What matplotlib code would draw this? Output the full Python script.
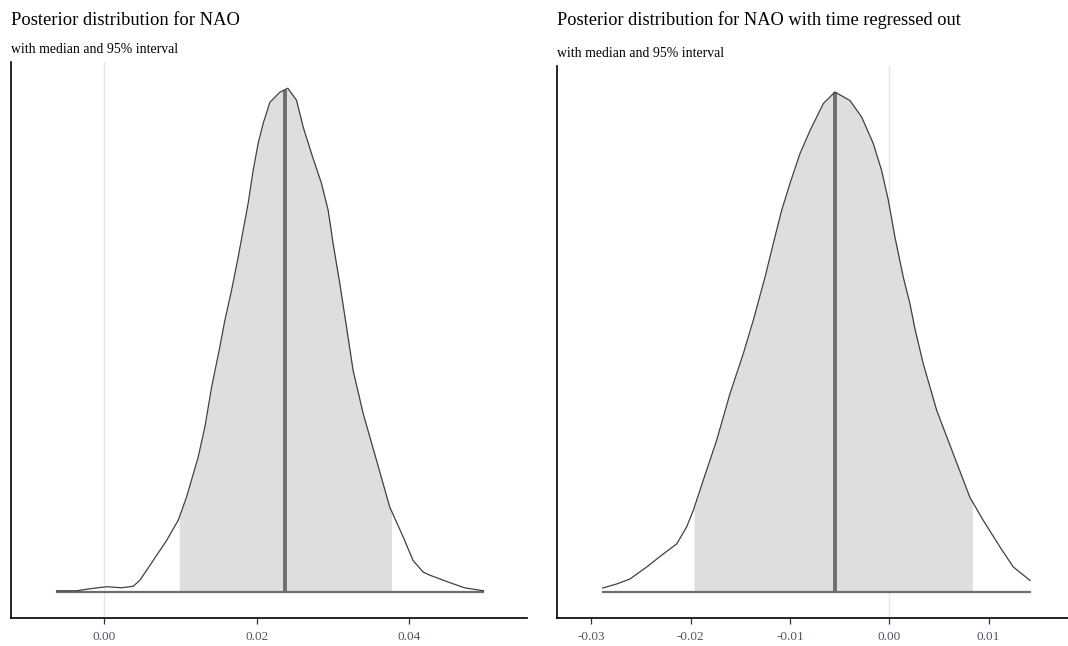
import numpy as np
import matplotlib.pyplot as plt

plt.rcParams['font.family'] = ['Liberation Serif', 'DejaVu Serif']

# posterior density for NAO (height scaled so the peak is 1)
nao_x = [-0.00618, -0.00357, -0.00183, 0.00035, 0.00232, 0.00384, 0.00471, 0.00645,
         0.00821, 0.00973, 0.01082, 0.01234, 0.01322, 0.01410, 0.01518, 0.01584,
         0.01671, 0.01758, 0.01823, 0.01889, 0.01954, 0.02020, 0.02085, 0.02173,
         0.02304, 0.02408, 0.02522, 0.02609, 0.02719, 0.02849, 0.02936, 0.03001,
         0.03089, 0.03177, 0.03263, 0.03394, 0.03569, 0.03743, 0.03918, 0.04048,
         0.04181, 0.04267, 0.04496, 0.04721, 0.04969]
nao_y = [0.003, 0.003, 0.007, 0.011, 0.009, 0.012, 0.024, 0.063,
         0.103, 0.143, 0.189, 0.268, 0.328, 0.407, 0.487, 0.540,
         0.599, 0.665, 0.718, 0.772, 0.837, 0.891, 0.930, 0.972,
         0.992, 1.000, 0.976, 0.923, 0.870, 0.811, 0.758, 0.692,
         0.612, 0.526, 0.440, 0.355, 0.262, 0.169, 0.110, 0.063,
         0.040, 0.034, 0.021, 0.009, 0.003]
nao_median = 0.0237
nao_interval = (0.00986, 0.03766)
nao_ticks = [0.00, 0.02, 0.04]
nao_labels = ['0.00', '0.02', '0.04']

# posterior density for NAO with time regressed out
res_x = [-0.02885, -0.02744, -0.02610, -0.02442, -0.02275, -0.02140, -0.02040, -0.01973,
         -0.01873, -0.01738, -0.01604, -0.01470, -0.01369, -0.01251, -0.01168, -0.01083,
         -0.01000, -0.00899, -0.00798, -0.00664, -0.00547, -0.00396, -0.00278, -0.00161,
         -0.00077, -0.00010, 0.00057, 0.00141, 0.00208, 0.00258, 0.00342, 0.00477,
         0.00644, 0.00812, 0.00946, 0.01114, 0.01248, 0.01417]
res_y = [0.009, 0.017, 0.027, 0.051, 0.077, 0.097, 0.131, 0.164,
         0.224, 0.304, 0.397, 0.477, 0.544, 0.630, 0.697, 0.764,
         0.817, 0.877, 0.923, 0.977, 1.000, 0.983, 0.950, 0.897,
         0.843, 0.784, 0.710, 0.630, 0.577, 0.527, 0.457, 0.364,
         0.277, 0.190, 0.144, 0.091, 0.051, 0.024]
res_median = -0.00547
res_interval = (-0.01966, 0.00836)
res_ticks = [-0.03, -0.02, -0.01, 0.00, 0.01]
res_labels = ['-0.03', '-0.02', '-0.01', '0.00', '0.01']


def draw_panel(ax, x, y, med, interval, ticks, labels, xlim):
    x = np.array(x)
    y = np.array(y)
    lo, hi = interval
    ax.axvline(0, color='#e6e6e6', lw=1.0, zorder=0)
    inside = (x > lo) & (x < hi)
    fx = np.concatenate([[lo], x[inside], [hi]])
    fy = np.concatenate([[np.interp(lo, x, y)], y[inside], [np.interp(hi, x, y)]])
    ax.fill_between(fx, 0, fy, color='#dedede', lw=0, zorder=1)
    ax.plot([med, med], [0, np.interp(med, x, y)], color='#6e6e6e', lw=2.8,
            zorder=2, solid_capstyle='butt')
    ax.plot([x[0], x[-1]], [0, 0], color='#6e6e6e', lw=1.6, zorder=3)
    ax.plot(x, y, color='#404040', lw=0.9, zorder=4)

    ax.set_xlim(*xlim)
    ax.set_ylim(-0.05, 1.052)
    ax.set_xticks(ticks)
    ax.set_xticklabels(labels)
    ax.set_yticks([])
    ax.tick_params(axis='x', length=4, width=0.9, color='#333333', pad=6,
                   labelsize=9.5, labelcolor='#4d5566')
    for s in ['top', 'right']:
        ax.spines[s].set_visible(False)
    for s in ['left', 'bottom']:
        ax.spines[s].set_linewidth(1.2)
        ax.spines[s].set_color('black')


fig = plt.figure(figsize=(10.68, 6.46), dpi=100)
W, H = 1068, 646

ax1 = fig.add_axes([11 / W, (H - 617.5) / H, 516 / W, 555.5 / H])
draw_panel(ax1, nao_x, nao_y, nao_median, nao_interval, nao_ticks, nao_labels,
           (-0.01217, 0.0554))

ax2 = fig.add_axes([557 / W, (H - 617.5) / H, 511 / W, 551.5 / H])
draw_panel(ax2, res_x, res_y, res_median, res_interval, res_ticks, res_labels,
           (-0.03345, 0.01799))

fig.text(11 / W, 1 - 25 / H, 'Posterior distribution for NAO', fontsize=13.3,
         va='baseline', ha='left', color='black')
fig.text(11 / W, 1 - 53 / H, 'with median and 95% interval', fontsize=9.9,
         va='baseline', ha='left', color='black')
fig.text(557 / W, 1 - 25 / H, 'Posterior distribution for NAO with time regressed out',
         fontsize=13.2, va='baseline', ha='left', color='black')
fig.text(557 / W, 1 - 57 / H, 'with median and 95% interval', fontsize=9.9,
         va='baseline', ha='left', color='black')

fig.savefig('out.png', dpi=100)
